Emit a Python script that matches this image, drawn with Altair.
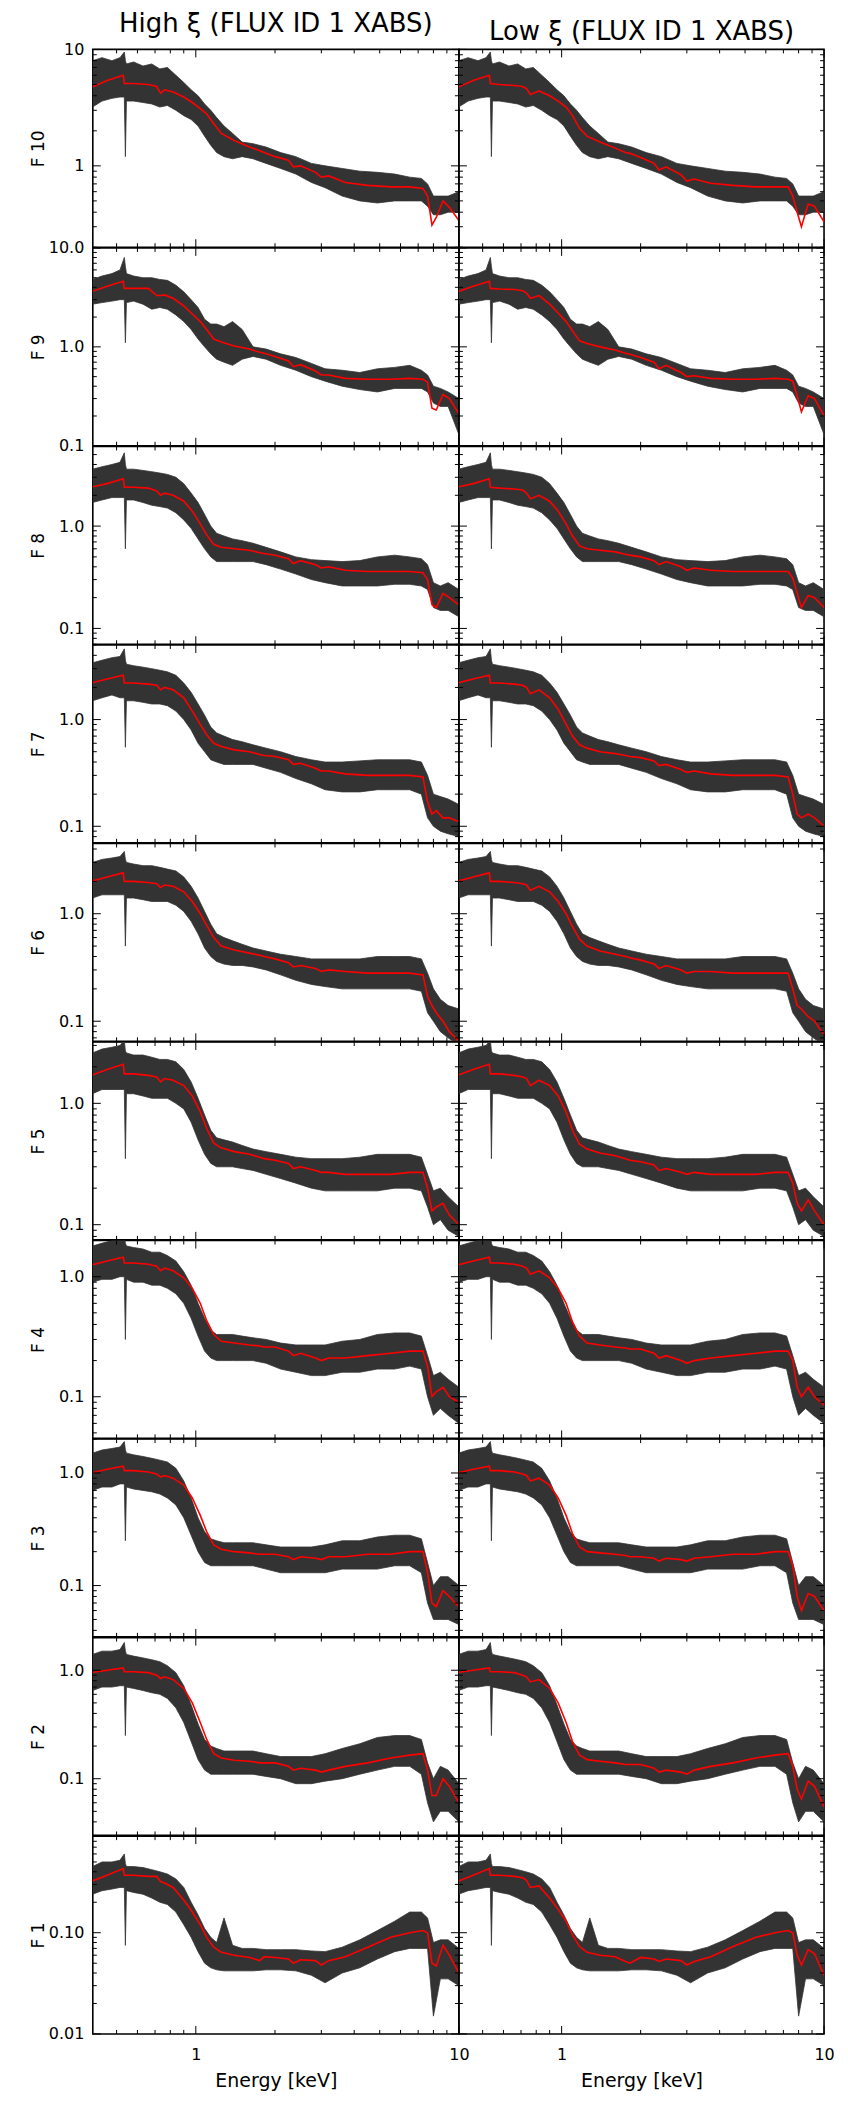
import altair as alt
import pandas as pd

FONT = "DejaVu Sans"
COLUMN_TITLES = ["High \u03be (FLUX ID 1 XABS)", "Low \u03be (FLUX ID 1 XABS)"]
FLUX_NAMES = ["F 10", "F 9", "F 8", "F 7", "F 6", "F 5", "F 4", "F 3", "F 2", "F 1"]
X_DOMAIN = [0.406, 10.0]
X_LABELS = [1, 10]
X_MINOR = [0.5, 0.6, 0.7, 0.8, 0.9, 2, 3, 4, 5, 6, 7, 8, 9]

Y_RANGES = [[0.2, 10], [0.1, 10], [0.07, 6], [0.07, 5], [0.065, 4.5],
            [0.075, 3.2], [0.045, 2.0], [0.035, 2.0], [0.03, 2.0], [0.01, 0.9]]
Y_LABELS = [[1, 10], [0.1, 1, 10], [0.1, 1], [0.1, 1], [0.1, 1],
            [0.1, 1], [0.1, 1], [0.1, 1], [0.1, 1], [0.01, 0.1]]
Y_FORMATS = ["d", ".1f", ".1f", ".1f", ".1f", ".1f", ".1f", ".1f", ".1f", ".2f"]

# energy grid of the observed spectra (keV)
ENERGY_DATA = [0.405, 0.44, 0.48, 0.515, 0.535, 0.54, 0.545, 0.58, 0.63, 0.68,
               0.73, 0.78, 0.84, 0.90, 0.96, 1.02, 1.08, 1.14, 1.20, 1.28,
               1.38, 1.50, 1.65, 1.85, 2.10, 2.40, 2.75, 3.10, 3.60, 4.20,
               4.90, 5.70, 6.50, 7.20, 7.60, 8.00, 8.50, 9.10, 10.0]
# energy grid of the models (keV)
ENERGY_MODEL = [0.40, 0.46, 0.53, 0.535, 0.58, 0.66, 0.71, 0.735, 0.76, 0.82,
                0.90, 0.97, 1.04, 1.10, 1.17, 1.25, 1.40, 1.60, 1.75, 1.82,
                2.00, 2.25, 2.35, 2.50, 2.85, 3.00, 3.20, 3.70, 4.50, 5.50,
                6.50, 7.30, 7.60, 7.90, 8.20, 8.70, 9.20, 10.0]

# ---- F 10
F10_LO = [3.2, 3.6, 3.8, 3.9, 3.9, 1.2, 3.6, 3.6, 3.5, 3.4, 3.2, 3.3, 3.0, 2.7, 2.5, 2.2, 1.8, 1.5, 1.3, 1.2,
          1.15, 1.2, 1.15, 1.05, 0.95, 0.85, 0.72, 0.65, 0.55, 0.5, 0.48, 0.5, 0.5, 0.5, 0.45, 0.38, 0.38, 0.4, 0.4]
F10_HI = [8.0, 8.5, 8.0, 8.5, 9.5, 8.0, 7.5, 7.8, 7.2, 7.5, 6.8, 7.0, 6.0, 5.2, 4.5, 4.0, 3.4, 3.0, 2.6, 2.2,
          1.9, 1.6, 1.55, 1.45, 1.3, 1.2, 1.05, 1.0, 0.95, 0.9, 0.88, 0.85, 0.8, 0.78, 0.7, 0.55, 0.55, 0.55, 0.6]
F10_MODEL_HIGH = [4.7, 5.4, 6.0, 5.1, 5.1, 5.0, 4.8, 4.2, 4.5, 4.3, 3.9, 3.5, 3.1, 2.8, 2.3, 1.9, 1.65, 1.45, 1.35, 1.3,
                  1.2, 1.12, 0.98, 1.0, 0.88, 0.8, 0.82, 0.72, 0.68, 0.66, 0.66, 0.64, 0.55, 0.31, 0.36, 0.5, 0.44, 0.34]
F10_MODEL_LOW = [4.7, 5.4, 6.0, 5.1, 5.0, 4.9, 4.8, 4.6, 4.1, 4.4, 4.0, 3.6, 3.2, 2.7, 2.1, 1.8, 1.6, 1.42, 1.3, 1.28,
                 1.18, 1.05, 0.92, 0.98, 0.84, 0.74, 0.77, 0.71, 0.68, 0.66, 0.66, 0.66, 0.55, 0.4, 0.3, 0.47, 0.45, 0.33]
# ---- F 9
F9_LO = [2.7, 2.8, 2.9, 3.0, 3.0, 1.1, 2.8, 2.9, 2.7, 2.4, 2.5, 2.4, 2.1, 1.8, 1.5, 1.2, 1.0, 0.85, 0.75, 0.7,
         0.65, 0.75, 0.8, 0.75, 0.65, 0.58, 0.5, 0.45, 0.4, 0.37, 0.35, 0.38, 0.38, 0.38, 0.35, 0.27, 0.25, 0.25, 0.13]
F9_HI = [4.8, 5.2, 5.5, 6.0, 8.0, 6.5, 5.5, 5.2, 5.0, 5.0, 4.8, 4.7, 4.2, 3.6, 3.0, 2.5, 1.9, 1.7, 1.7, 1.6,
         1.8, 1.5, 1.0, 0.95, 0.85, 0.78, 0.68, 0.6, 0.58, 0.55, 0.6, 0.62, 0.65, 0.58, 0.52, 0.4, 0.38, 0.35, 0.3]
F9_MODEL_HIGH = [3.6, 4.1, 4.6, 3.9, 3.9, 3.9, 3.3, 3.3, 3.35, 3.1, 2.6, 2.15, 1.8, 1.5, 1.2, 1.12, 1.02, 0.95, 0.88, 0.86,
                 0.8, 0.72, 0.63, 0.66, 0.57, 0.52, 0.52, 0.48, 0.47, 0.47, 0.48, 0.47, 0.44, 0.24, 0.23, 0.33, 0.3, 0.21]
F9_MODEL_LOW = [3.6, 4.1, 4.6, 3.9, 3.85, 3.8, 3.7, 3.5, 3.1, 3.3, 2.7, 2.2, 1.8, 1.45, 1.15, 1.08, 1.0, 0.93, 0.86, 0.84,
                0.78, 0.7, 0.6, 0.65, 0.55, 0.5, 0.51, 0.48, 0.47, 0.47, 0.48, 0.47, 0.45, 0.32, 0.22, 0.32, 0.3, 0.2]
# ---- F 8
F8_LO = [1.7, 1.8, 1.9, 1.9, 1.9, 0.6, 1.8, 1.8, 1.7, 1.6, 1.55, 1.5, 1.35, 1.15, 0.95, 0.75, 0.6, 0.5, 0.45, 0.45,
         0.45, 0.45, 0.45, 0.42, 0.38, 0.34, 0.3, 0.28, 0.26, 0.26, 0.26, 0.27, 0.27, 0.26, 0.24, 0.16, 0.15, 0.15, 0.13]
F8_HI = [3.6, 3.8, 4.0, 4.2, 5.2, 4.0, 3.6, 3.6, 3.5, 3.4, 3.3, 3.2, 3.0, 2.6, 2.1, 1.7, 1.3, 1.0, 0.85, 0.8,
         0.75, 0.72, 0.68, 0.62, 0.56, 0.5, 0.47, 0.46, 0.45, 0.46, 0.5, 0.52, 0.5, 0.48, 0.42, 0.28, 0.26, 0.28, 0.24]
F8_MODEL_HIGH = [2.4, 2.6, 2.9, 2.4, 2.4, 2.35, 2.2, 2.0, 2.1, 2.0, 1.75, 1.4, 1.05, 0.82, 0.66, 0.62, 0.6, 0.58, 0.55, 0.54,
                 0.52, 0.48, 0.43, 0.46, 0.42, 0.39, 0.4, 0.37, 0.36, 0.36, 0.36, 0.35, 0.3, 0.17, 0.16, 0.22, 0.2, 0.17]
F8_MODEL_LOW = [2.4, 2.6, 2.9, 2.4, 2.35, 2.3, 2.25, 2.1, 1.85, 2.0, 1.75, 1.4, 1.05, 0.8, 0.64, 0.6, 0.58, 0.56, 0.53, 0.52,
                0.5, 0.46, 0.42, 0.45, 0.4, 0.37, 0.39, 0.37, 0.36, 0.36, 0.36, 0.36, 0.31, 0.22, 0.16, 0.21, 0.2, 0.16]
# ---- F 7
F7_LO = [1.5, 1.6, 1.7, 1.6, 1.6, 0.55, 1.5, 1.5, 1.45, 1.4, 1.4, 1.35, 1.2, 1.0, 0.8, 0.6, 0.5, 0.42, 0.4, 0.38,
         0.38, 0.38, 0.38, 0.35, 0.32, 0.28, 0.25, 0.22, 0.21, 0.21, 0.22, 0.22, 0.22, 0.2, 0.12, 0.1, 0.09, 0.085, 0.08]
F7_HI = [3.4, 3.6, 3.8, 3.9, 4.6, 3.6, 3.3, 3.2, 3.1, 3.0, 2.9, 2.8, 2.6, 2.2, 1.8, 1.4, 1.1, 0.85, 0.75, 0.7,
         0.65, 0.62, 0.58, 0.54, 0.5, 0.45, 0.42, 0.4, 0.4, 0.41, 0.42, 0.42, 0.42, 0.4, 0.3, 0.2, 0.19, 0.18, 0.16]
F7_MODEL_HIGH = [2.2, 2.4, 2.6, 2.2, 2.2, 2.15, 2.1, 1.9, 2.0, 1.9, 1.6, 1.2, 0.9, 0.72, 0.6, 0.56, 0.52, 0.5, 0.47, 0.46,
                 0.45, 0.42, 0.38, 0.39, 0.35, 0.33, 0.33, 0.31, 0.3, 0.3, 0.3, 0.29, 0.17, 0.13, 0.14, 0.12, 0.12, 0.11]
F7_MODEL_LOW = [2.2, 2.4, 2.6, 2.2, 2.2, 2.15, 2.1, 2.0, 1.75, 1.9, 1.6, 1.25, 0.9, 0.7, 0.58, 0.54, 0.5, 0.48, 0.46, 0.45,
                0.44, 0.41, 0.37, 0.38, 0.34, 0.32, 0.33, 0.31, 0.3, 0.3, 0.3, 0.29, 0.2, 0.13, 0.12, 0.13, 0.12, 0.1]
# ---- F 6
F6_LO = [1.4, 1.5, 1.5, 1.5, 1.5, 0.5, 1.4, 1.4, 1.35, 1.3, 1.3, 1.3, 1.2, 1.05, 0.85, 0.65, 0.48, 0.4, 0.36, 0.34,
         0.33, 0.33, 0.32, 0.3, 0.27, 0.24, 0.22, 0.21, 0.2, 0.2, 0.2, 0.2, 0.2, 0.19, 0.12, 0.1, 0.08, 0.07, 0.06]
F6_HI = [3.0, 3.2, 3.3, 3.4, 3.8, 3.2, 3.0, 2.9, 2.8, 2.8, 2.7, 2.6, 2.5, 2.2, 1.8, 1.4, 1.05, 0.8, 0.65, 0.6,
         0.56, 0.52, 0.48, 0.45, 0.42, 0.4, 0.38, 0.38, 0.38, 0.38, 0.4, 0.4, 0.4, 0.38, 0.28, 0.2, 0.16, 0.14, 0.13]
F6_MODEL_HIGH = [2.0, 2.2, 2.4, 2.0, 2.0, 1.95, 1.9, 1.75, 1.85, 1.8, 1.6, 1.3, 1.0, 0.78, 0.6, 0.5, 0.46, 0.43, 0.41, 0.4,
                 0.38, 0.35, 0.32, 0.33, 0.31, 0.29, 0.3, 0.29, 0.28, 0.28, 0.28, 0.27, 0.17, 0.14, 0.12, 0.1, 0.08, 0.065]
F6_MODEL_LOW = [2.0, 2.2, 2.4, 2.0, 2.0, 1.95, 1.9, 1.85, 1.65, 1.8, 1.6, 1.3, 1.0, 0.76, 0.58, 0.5, 0.45, 0.42, 0.4, 0.39,
                0.37, 0.34, 0.31, 0.33, 0.3, 0.28, 0.29, 0.29, 0.28, 0.28, 0.28, 0.28, 0.2, 0.14, 0.13, 0.11, 0.1, 0.075]
# ---- F 5
F5_LO = [1.2, 1.3, 1.3, 1.3, 1.3, 0.35, 1.2, 1.2, 1.15, 1.1, 1.1, 1.1, 1.0, 0.9, 0.7, 0.5, 0.38, 0.32, 0.3, 0.3,
         0.3, 0.29, 0.28, 0.26, 0.24, 0.22, 0.2, 0.19, 0.19, 0.19, 0.19, 0.2, 0.2, 0.19, 0.14, 0.1, 0.11, 0.09, 0.08]
F5_HI = [2.6, 2.8, 2.9, 3.0, 3.3, 2.7, 2.6, 2.5, 2.5, 2.4, 2.3, 2.3, 2.2, 1.9, 1.5, 1.1, 0.8, 0.6, 0.52, 0.5,
         0.48, 0.45, 0.42, 0.4, 0.38, 0.36, 0.35, 0.35, 0.35, 0.36, 0.38, 0.38, 0.38, 0.36, 0.26, 0.19, 0.2, 0.17, 0.14]
F5_MODEL_HIGH = [1.7, 1.9, 2.1, 1.75, 1.75, 1.7, 1.65, 1.5, 1.6, 1.55, 1.4, 1.15, 0.85, 0.62, 0.47, 0.43, 0.4, 0.38, 0.36, 0.35,
                 0.34, 0.32, 0.29, 0.3, 0.28, 0.27, 0.27, 0.26, 0.26, 0.26, 0.27, 0.27, 0.2, 0.13, 0.14, 0.15, 0.12, 0.1]
F5_MODEL_LOW = [1.7, 1.9, 2.1, 1.75, 1.75, 1.7, 1.65, 1.6, 1.4, 1.55, 1.4, 1.15, 0.85, 0.6, 0.46, 0.42, 0.39, 0.37, 0.35, 0.34,
                0.33, 0.31, 0.28, 0.29, 0.27, 0.26, 0.27, 0.26, 0.26, 0.26, 0.27, 0.27, 0.22, 0.15, 0.13, 0.16, 0.13, 0.1]
# ---- F 4
F4_LO = [0.9, 0.95, 0.95, 1.0, 1.0, 0.3, 0.95, 0.9, 0.9, 0.85, 0.85, 0.8, 0.72, 0.6, 0.45, 0.32, 0.24, 0.21, 0.2, 0.2,
         0.2, 0.2, 0.2, 0.19, 0.17, 0.16, 0.15, 0.15, 0.16, 0.16, 0.17, 0.17, 0.18, 0.17, 0.1, 0.07, 0.08, 0.07, 0.06]
F4_HI = [1.8, 1.9, 2.0, 2.0, 2.2, 1.9, 1.8, 1.75, 1.7, 1.6, 1.6, 1.5, 1.35, 1.1, 0.85, 0.6, 0.45, 0.36, 0.33, 0.33,
         0.33, 0.32, 0.31, 0.3, 0.28, 0.27, 0.27, 0.27, 0.29, 0.3, 0.33, 0.34, 0.34, 0.32, 0.22, 0.15, 0.16, 0.14, 0.12]
F4_MODEL_HIGH = [1.25, 1.35, 1.45, 1.3, 1.3, 1.27, 1.22, 1.12, 1.18, 1.12, 0.98, 0.8, 0.6, 0.43, 0.33, 0.29, 0.28, 0.27, 0.265, 0.26,
                 0.26, 0.24, 0.22, 0.23, 0.21, 0.2, 0.21, 0.21, 0.22, 0.23, 0.24, 0.24, 0.18, 0.1, 0.11, 0.12, 0.1, 0.09]
F4_MODEL_LOW = [1.25, 1.35, 1.45, 1.3, 1.3, 1.27, 1.22, 1.18, 1.05, 1.12, 0.98, 0.8, 0.6, 0.42, 0.32, 0.28, 0.27, 0.26, 0.255, 0.25,
                0.25, 0.23, 0.21, 0.22, 0.2, 0.19, 0.2, 0.21, 0.22, 0.23, 0.24, 0.24, 0.2, 0.12, 0.1, 0.12, 0.1, 0.085]
# ---- F 3
F3_LO = [0.7, 0.75, 0.75, 0.8, 0.8, 0.25, 0.75, 0.72, 0.7, 0.68, 0.65, 0.6, 0.52, 0.4, 0.28, 0.2, 0.16, 0.15, 0.15, 0.15,
         0.15, 0.15, 0.15, 0.14, 0.13, 0.13, 0.13, 0.13, 0.14, 0.14, 0.14, 0.15, 0.15, 0.13, 0.07, 0.05, 0.05, 0.05, 0.045]
F3_HI = [1.5, 1.6, 1.65, 1.7, 1.9, 1.6, 1.5, 1.45, 1.4, 1.35, 1.3, 1.25, 1.1, 0.85, 0.6, 0.4, 0.3, 0.26, 0.25, 0.24,
         0.24, 0.24, 0.24, 0.23, 0.22, 0.22, 0.22, 0.23, 0.25, 0.25, 0.27, 0.28, 0.28, 0.26, 0.16, 0.1, 0.12, 0.12, 0.1]
F3_MODEL_HIGH = [1.0, 1.08, 1.15, 1.05, 1.05, 1.02, 0.98, 0.92, 0.95, 0.9, 0.78, 0.6, 0.42, 0.3, 0.23, 0.21, 0.2, 0.195, 0.19, 0.19,
                 0.19, 0.18, 0.17, 0.18, 0.175, 0.17, 0.18, 0.18, 0.19, 0.19, 0.2, 0.2, 0.13, 0.07, 0.065, 0.09, 0.08, 0.065]
F3_MODEL_LOW = [1.0, 1.08, 1.15, 1.05, 1.05, 1.02, 0.98, 0.95, 0.85, 0.9, 0.78, 0.6, 0.42, 0.29, 0.22, 0.2, 0.195, 0.19, 0.185, 0.18,
                0.18, 0.175, 0.165, 0.175, 0.17, 0.165, 0.175, 0.18, 0.19, 0.19, 0.2, 0.2, 0.15, 0.08, 0.06, 0.085, 0.08, 0.06]
# ---- F 2
F2_LO = [0.65, 0.7, 0.7, 0.72, 0.72, 0.25, 0.7, 0.68, 0.65, 0.62, 0.6, 0.55, 0.45, 0.33, 0.22, 0.15, 0.12, 0.11, 0.11, 0.11,
         0.11, 0.11, 0.11, 0.105, 0.1, 0.09, 0.09, 0.095, 0.1, 0.11, 0.12, 0.13, 0.13, 0.11, 0.06, 0.04, 0.05, 0.05, 0.04]
F2_HI = [1.4, 1.5, 1.5, 1.55, 1.8, 1.5, 1.4, 1.35, 1.3, 1.25, 1.2, 1.1, 0.95, 0.72, 0.48, 0.32, 0.23, 0.2, 0.19, 0.18,
         0.18, 0.18, 0.18, 0.17, 0.16, 0.16, 0.16, 0.17, 0.19, 0.21, 0.24, 0.25, 0.25, 0.23, 0.14, 0.1, 0.13, 0.12, 0.09]
F2_MODEL_HIGH = [0.95, 1.0, 1.05, 0.97, 0.97, 0.95, 0.9, 0.84, 0.87, 0.82, 0.68, 0.5, 0.33, 0.23, 0.17, 0.155, 0.148, 0.145, 0.14, 0.14,
                 0.14, 0.13, 0.12, 0.125, 0.12, 0.115, 0.12, 0.13, 0.14, 0.155, 0.165, 0.17, 0.12, 0.07, 0.07, 0.1, 0.085, 0.06]
F2_MODEL_LOW = [0.95, 1.0, 1.05, 0.97, 0.97, 0.95, 0.9, 0.87, 0.78, 0.82, 0.68, 0.5, 0.33, 0.22, 0.165, 0.15, 0.145, 0.14, 0.135, 0.135,
                0.135, 0.125, 0.115, 0.12, 0.115, 0.11, 0.12, 0.13, 0.14, 0.155, 0.165, 0.17, 0.13, 0.08, 0.065, 0.095, 0.085, 0.055]
# ---- F 1
F1_LO = [0.24, 0.26, 0.27, 0.28, 0.28, 0.075, 0.26, 0.25, 0.24, 0.22, 0.2, 0.19, 0.16, 0.12, 0.09, 0.065, 0.05, 0.045, 0.043, 0.042,
         0.042, 0.042, 0.042, 0.043, 0.043, 0.042, 0.038, 0.032, 0.04, 0.045, 0.055, 0.065, 0.07, 0.07, 0.07, 0.015, 0.035, 0.035, 0.03]
F1_HI = [0.45, 0.5, 0.5, 0.52, 0.6, 0.48, 0.45, 0.45, 0.44, 0.42, 0.4, 0.38, 0.34, 0.28, 0.2, 0.15, 0.11, 0.09, 0.08, 0.14,
         0.075, 0.07, 0.07, 0.068, 0.068, 0.068, 0.066, 0.065, 0.072, 0.085, 0.105, 0.13, 0.16, 0.16, 0.14, 0.08, 0.085, 0.085, 0.07]
F1_MODEL_HIGH = [0.32, 0.37, 0.43, 0.37, 0.37, 0.36, 0.36, 0.32, 0.31, 0.28, 0.21, 0.16, 0.12, 0.09, 0.072, 0.064, 0.06, 0.057, 0.053, 0.058,
                 0.057, 0.055, 0.05, 0.054, 0.053, 0.048, 0.053, 0.058, 0.072, 0.09, 0.1, 0.105, 0.1, 0.05, 0.047, 0.075, 0.06, 0.04]
F1_MODEL_LOW = [0.32, 0.37, 0.43, 0.37, 0.37, 0.36, 0.35, 0.33, 0.28, 0.29, 0.22, 0.17, 0.13, 0.095, 0.073, 0.064, 0.06, 0.058, 0.052, 0.05,
                0.057, 0.055, 0.052, 0.055, 0.053, 0.048, 0.052, 0.058, 0.073, 0.09, 0.1, 0.105, 0.1, 0.06, 0.048, 0.068, 0.062, 0.038]

DATA_LO = [F10_LO, F9_LO, F8_LO, F7_LO, F6_LO, F5_LO, F4_LO, F3_LO, F2_LO, F1_LO]
DATA_HI = [F10_HI, F9_HI, F8_HI, F7_HI, F6_HI, F5_HI, F4_HI, F3_HI, F2_HI, F1_HI]
MODELS_HIGH = [F10_MODEL_HIGH, F9_MODEL_HIGH, F8_MODEL_HIGH, F7_MODEL_HIGH, F6_MODEL_HIGH,
               F5_MODEL_HIGH, F4_MODEL_HIGH, F3_MODEL_HIGH, F2_MODEL_HIGH, F1_MODEL_HIGH]
MODELS_LOW = [F10_MODEL_LOW, F9_MODEL_LOW, F8_MODEL_LOW, F7_MODEL_LOW, F6_MODEL_LOW,
              F5_MODEL_LOW, F4_MODEL_LOW, F3_MODEL_LOW, F2_MODEL_LOW, F1_MODEL_LOW]

PANEL_W = [367, 366]
PANEL_H = 198.3
DATA_COLOR = "#333333"
MODEL_COLOR = "#ff0000"


def log_ticks(lo, hi):
    major, minor = [], []
    for e in range(-3, 2):
        for k in range(1, 10):
            v = k * 10.0 ** e
            if lo * 0.999 <= v <= hi * 1.001:
                (major if k == 1 else minor).append(v)
    return major, minor


def make_panel(i, col):
    W = PANEL_W[col]
    H = PANEL_H
    ydom = Y_RANGES[i]
    xscale = alt.Scale(type="log", domain=X_DOMAIN, nice=False, zero=False)
    yscale = alt.Scale(type="log", domain=ydom, nice=False, zero=False)
    if i == 9:
        xaxis = alt.Axis(values=X_LABELS, format="d", ticks=False, domain=False, grid=False,
                         labelFontSize=16, labelFont=FONT, labelColor="black", labelPadding=13,
                         labelFlush=False, labelOverlap=False,
                         title="Energy [keV]", titleFont=FONT, titleFontSize=19,
                         titleFontWeight="normal", titleColor="black", titlePadding=9,
                         titleX=W / 2, titleAlign="center")
    else:
        xaxis = None
    if col == 0:
        yaxis = alt.Axis(values=Y_LABELS[i], format=Y_FORMATS[i], ticks=False, domain=False, grid=False,
                         labelFontSize=16, labelFont=FONT, labelColor="black", labelPadding=9,
                         labelFlush=False, labelOverlap=False, minExtent=45, maxExtent=45,
                         title=FLUX_NAMES[i], titleFont=FONT, titleFontSize=17,
                         titleFontWeight="normal", titleColor="black", titlePadding=0)
    else:
        yaxis = None

    band_df = pd.DataFrame({"E": ENERGY_DATA, "lo": DATA_LO[i], "hi": DATA_HI[i]})
    model_vals = MODELS_HIGH[i] if col == 0 else MODELS_LOW[i]
    model_df = pd.DataFrame({"E": ENERGY_MODEL, "m": model_vals})

    def X(field):
        return alt.X(field, scale=xscale, axis=xaxis)

    def Y(field):
        return alt.Y(field, scale=yscale, axis=yaxis)

    band = alt.Chart(band_df).mark_area(color=DATA_COLOR, clip=True, strokeWidth=0.8,
                                        stroke=DATA_COLOR).encode(
        x=X("E:Q"), y=Y("lo:Q"), y2="hi:Q")
    model = alt.Chart(model_df).mark_line(color=MODEL_COLOR, strokeWidth=1.6, clip=True).encode(
        x=X("E:Q"), y=Y("m:Q"))

    layers = [band, model]
    ymajor, yminor = log_ticks(ydom[0], ydom[1])
    for vals, ln in ((ymajor, 8), (yminor, 4)):
        if not vals:
            continue
        df = pd.DataFrame({"v": vals})
        for x0, x1 in ((0, ln), (W, W - ln)):
            layers.append(alt.Chart(df).mark_rule(color="black", strokeWidth=1).encode(
                y=Y("v:Q"), x=alt.value(x0), x2=alt.value(x1)))
    for vals, ln in (([1, 10], 8), (X_MINOR, 4)):
        df = pd.DataFrame({"v": vals})
        for y0, y1 in ((H, H - ln), (0, ln)):
            layers.append(alt.Chart(df).mark_rule(color="black", strokeWidth=1).encode(
                x=X("v:Q"), y=alt.value(y0), y2=alt.value(y1)))

    ch = alt.layer(*layers).properties(width=W, height=H)
    if i == 0:
        ch = ch.properties(title=alt.TitleParams(COLUMN_TITLES[col], font=FONT, fontSize=26,
                                                 fontWeight="normal", color="black", offset=4,
                                                 anchor="middle", frame="group"))
    return ch


panels = []
for i in range(10):
    for col in range(2):
        panels.append(make_panel(i, col))

chart = alt.concat(*panels, columns=2, spacing=0, bounds="flush").resolve_scale(
    x="independent", y="independent"
).properties(
    padding={"left": 21, "top": 0, "right": 5, "bottom": 5},
    background="white"
).configure_view(stroke="black", strokeWidth=1.6)

chart.save("out.html", embed_options={"renderer": "svg", "actions": False})
